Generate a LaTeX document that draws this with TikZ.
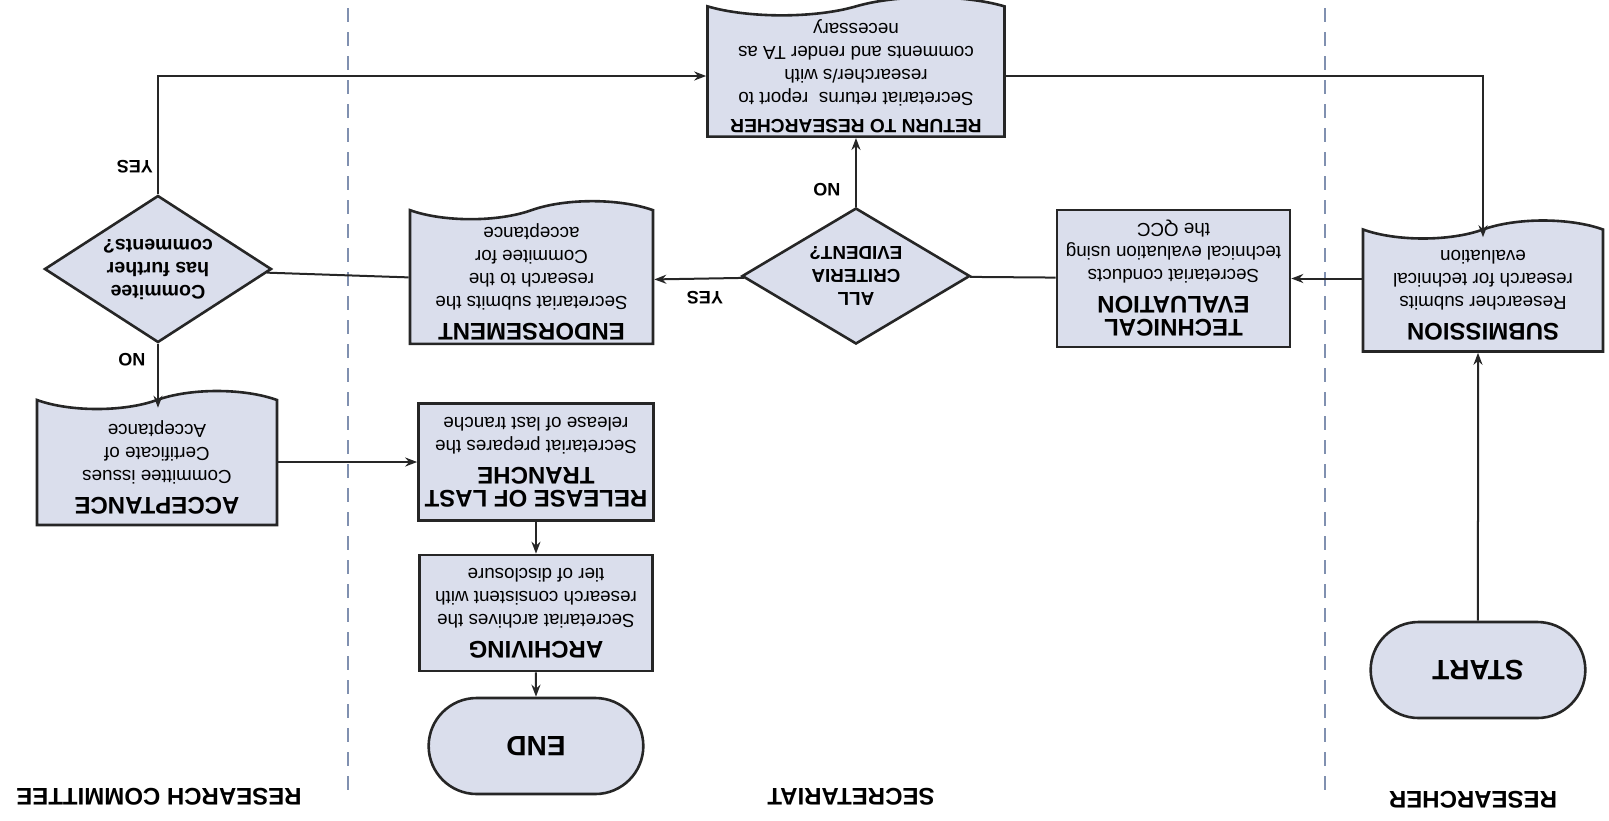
\documentclass[tikz,border=0pt]{standalone}
\usepackage{fontspec}
\setmainfont{Liberation Sans}
\usetikzlibrary{shapes.geometric,shapes.misc,shapes.symbols,arrows.meta}
\definecolor{boxfill}{HTML}{DADEEC}
\definecolor{edge}{HTML}{262626}
\definecolor{lane}{HTML}{8090B0}
\newcommand{\ttl}[2][12]{{\fontsize{#1}{#1}\selectfont\bfseries #2}}
\tikzset{
  box/.style={rectangle, draw=edge, fill=boxfill, line width=1.3pt, align=center, font=\fontsize{9.4}{11.5}\selectfont, inner sep=2pt},
  docBox/.style={box, tape, tape bend top=none, tape bend bottom=in and out, tape bend height=9pt},
  decision/.style={diamond, draw=edge, fill=boxfill, line width=1.3pt, align=center, font=\fontsize{9.4}{11.5}\selectfont\bfseries, inner sep=0pt},
  terminal/.style={rounded rectangle, draw=edge, fill=boxfill, line width=1.3pt, font=\fontsize{14}{16}\selectfont\bfseries, minimum width=114pt, minimum height=48pt},
  flowLine/.style={draw=edge, line width=1pt},
  arr/.style={flowLine, -{Stealth[length=6pt,width=4.5pt]}},
  yn/.style={font=\fontsize{9}{10}\selectfont\bfseries},
  lab/.style={font=\fontsize{12}{14}\selectfont\bfseries},
  laneLine/.style={draw=lane, line width=0.7pt, dash pattern=on 7pt off 5pt}
}
\begin{document}
\begin{tikzpicture}[x=0.5pt, y=0.5pt, rotate=180, every node/.append style={transform shape}]
\useasboundingbox (0,0) rectangle (1609,820);

% swim lanes
\draw[laneLine] (284,8) -- (284,797);
\draw[laneLine] (1261,8) -- (1261,790);
\node[lab] (laneRes) at (136,800) {RESEARCHER};
\node[lab] (laneSec) at (758,797) {SECRETARIAT};
\node[lab] (laneCom) at (1450,797) {RESEARCH COMMITTEE};

% steps
\node[terminal] (start) at (131,670) {START};
\node[docBox, minimum width=120pt, minimum height=65.5pt] (sub) at (126,295)
  {\ttl{SUBMISSION}\\[2pt]Researcher submits\\research for technical\\evaluation};
\node[box, minimum width=116.5pt, minimum height=68.5pt] (tech) at (435.5,278.5)
  {\ttl{TECHNICAL}\\\ttl{EVALUATION}\\[2pt]Secretariat conducts\\technical evaluation using\\the QCC};
\node[decision, shape aspect=1.7, minimum width=114pt, minimum height=68pt] (crit) at (753,276)
  {ALL\\CRITERIA\\EVIDENT?};
\node[docBox, minimum width=121.5pt, minimum height=66.5pt] (endo) at (1077.5,281.5)
  {\ttl{ENDORSEMENT}\\[2pt]Secretariat submits the\\research to the\\Commitee for\\acceptance};
\node[decision, shape aspect=1.55, minimum width=113.5pt, minimum height=73.5pt,
  font=\fontsize{9.8}{11.5}\selectfont\bfseries] (comm) at (1451,269)
  {Commitee\\has further\\comments?};
\node[docBox, minimum width=148.5pt, minimum height=66pt] (ret) at (753,76)
  {\ttl[9.6]{RETURN TO RESEARCHER}\\[2pt]Secretariat returns\ \ report to\\researcher/s with\\comments and render TA as\\necessary};
\node[docBox, minimum width=120pt, minimum height=67pt] (acc) at (1452,467)
  {\ttl{ACCEPTANCE}\\[2pt]Committee issues\\Certificate of\\Acceptance};
\node[box, minimum width=117.5pt, minimum height=58.5pt] (rel) at (1073,462)
  {\ttl{RELEASE OF LAST}\\\ttl{TRANCHE}\\[2pt]Secretariat prepares the\\release of last tranche};
\node[box, minimum width=116.5pt, minimum height=58pt] (arch) at (1073,613)
  {\ttl{ARCHIVING}\\[2pt]Secretariat archives the\\research consistent with\\tier of disclosure};
\node[terminal] (finish) at (1073,746) {END};

% yes / no labels
\node[yn] (critYes) at (904,298) {YES};
\node[yn] (critNo) at (782,190) {NO};
\node[yn] (commYes) at (1474,167) {YES};
\node[yn] (commNo) at (1477,360) {NO};

% connectors
\draw[arr] (start) -- (start |- sub.north);
\draw[arr] (sub.east |- tech) -- (tech);
\draw[flowLine] (tech) -- (crit);
\draw[arr] (crit) -- (endo);
\draw[arr] (crit) -- (ret);
\draw[arr] (ret.west) -| (sub.south);
\draw[flowLine] (endo) -- (comm);
\draw[arr] (comm.south) |- (ret.east);
\draw[arr] (comm.north) -- (comm.north |- acc.south);
\draw[arr] (acc.west |- rel) -- (rel);
\draw[arr] (rel) -- (arch);
\draw[arr] (arch) -- (finish);
\end{tikzpicture}
\end{document}
